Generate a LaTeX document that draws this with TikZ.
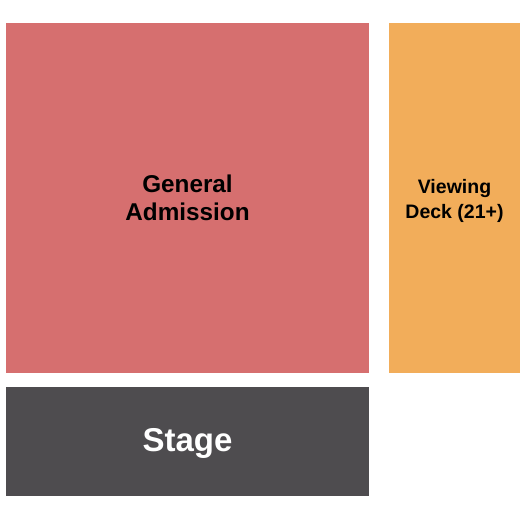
\documentclass[tikz,border=0pt]{standalone}
\usepackage{fontspec}
\setmainfont{Liberation Sans}
\usepackage{xcolor}
\definecolor{gacol}{RGB}{214,111,111}
\definecolor{deckcol}{RGB}{242,173,90}
\definecolor{stagecol}{RGB}{78,76,79}
\tikzset{>=latex}
\tikzset{label/.style={align=center,inner sep=0pt,font=\bfseries}}

\begin{document}
\begin{tikzpicture}[x=1pt,y=-1pt]
  \useasboundingbox[fill=white] (0,0) rectangle (525,525);
  % Sections
  \fill[gacol] (6,23) rectangle (369,373);
  \fill[deckcol] (389,23) rectangle (520,373);
  \fill[stagecol] (6,387) rectangle (369,496);
  % Labels
  \node[label,font=\bfseries\fontsize{24.3}{27.5}\selectfont] (ga) at (187.5,198) {General\\Admission};
  \node[label,font=\bfseries\fontsize{19.5}{25}\selectfont] (deck) at (454.5,201) {Viewing\\Deck (21+)};
  \node[label,text=white,font=\bfseries\fontsize{33}{33}\selectfont] (stage) at (187.5,443) {Stage};
\end{tikzpicture}
\end{document}
